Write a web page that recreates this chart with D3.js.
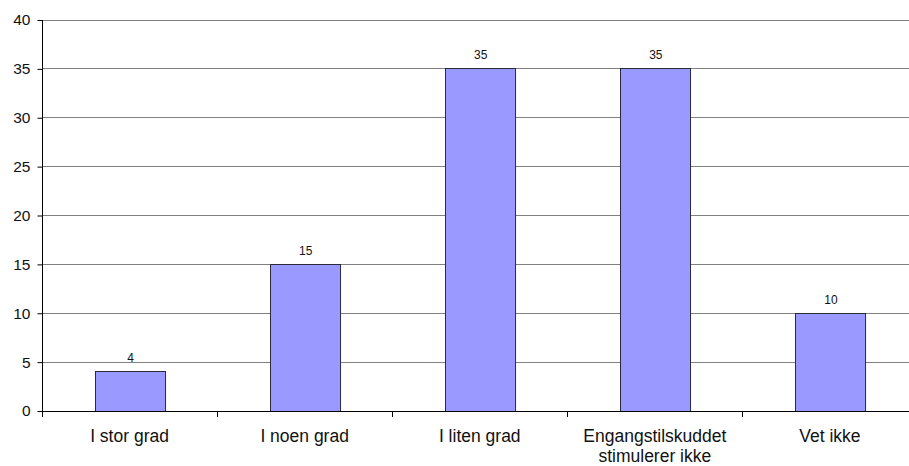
<!DOCTYPE html>
<html>
<head>
<meta charset="utf-8">
<script src="https://cdn.jsdelivr.net/npm/d3@7"></script>
<style>
  html, body { margin: 0; padding: 0; background: #fff; }
  svg { display: block; font-family: "Liberation Sans", Arial, sans-serif; }
</style>
</head>
<body>
<svg id="chart" width="909" height="466"></svg>
<script>
// Survey answers (percent)
const categories = ["I stor grad", "I noen grad", "I liten grad", "Engangstilskuddet stimulerer ikke", "Vet ikke"];
const categoryLines = [["I stor grad"], ["I noen grad"], ["I liten grad"], ["Engangstilskuddet", "stimulerer ikke"], ["Vet ikke"]];
const values = [4, 15, 35, 35, 10];
const yTicks = [0, 5, 10, 15, 20, 25, 30, 35, 40];

const svg = d3.select("#chart");
const plotLeft = 42, plotTop = 19.5, plotBottom = 410.5;
const bandW = 175.1;
const plotRight = plotLeft + bandW * categories.length;

const x = d3.scaleBand().domain(categories).range([plotLeft, plotRight]).paddingInner(0.6).paddingOuter(0.3);
const y = d3.scaleLinear().domain([0, 40]).range([plotBottom, plotTop]);

// horizontal gridlines
svg.append("g")
  .selectAll("line")
  .data(yTicks.filter(d => d > 0))
  .join("line")
  .attr("x1", plotLeft).attr("x2", 909)
  .attr("y1", d => Math.round(y(d)) + 0.5).attr("y2", d => Math.round(y(d)) + 0.5)
  .attr("stroke", "#808080").attr("stroke-width", 1);

// bars
svg.append("g")
  .selectAll("rect")
  .data(values)
  .join("rect")
  .attr("x", (d, i) => Math.round(x(categories[i])) + 0.5)
  .attr("y", d => Math.round(y(d)) + 0.5)
  .attr("width", x.bandwidth())
  .attr("height", d => Math.round(y(0)) - Math.round(y(d)))
  .attr("fill", "#9999ff")
  .attr("stroke", "#2a2a3a").attr("stroke-width", 1);

// value labels
svg.append("g")
  .selectAll("text")
  .data(values)
  .join("text")
  .attr("x", (d, i) => x(categories[i]) + x.bandwidth() / 2 + 1)
  .attr("y", d => y(d) - 9)
  .attr("text-anchor", "middle")
  .attr("font-size", 12)
  .attr("fill", "#111")
  .text(d => d);

// y axis
const yAxis = d3.axisLeft(y).tickValues(yTicks).tickSize(5).tickPadding(7);
const gy = svg.append("g").attr("transform", `translate(${plotLeft + 0.5},0.5)`).call(yAxis);
gy.select(".domain").attr("stroke", "#000").attr("d", `M0,${plotTop}V${plotBottom}`);
gy.selectAll(".tick line").attr("stroke", "#000");
gy.selectAll(".tick text").attr("font-size", 15.5).attr("fill", "#111").attr("font-family", null);

// x axis: baseline and category separators
const gx = svg.append("g");
gx.append("line")
  .attr("x1", plotLeft).attr("x2", 909)
  .attr("y1", Math.round(plotBottom) + 0.5).attr("y2", Math.round(plotBottom) + 0.5)
  .attr("stroke", "#000");
gx.selectAll("line.sep")
  .data(d3.range(categories.length + 1))
  .join("line")
  .attr("class", "sep")
  .attr("x1", i => Math.round(plotLeft + i * bandW) + 0.5).attr("x2", i => Math.round(plotLeft + i * bandW) + 0.5)
  .attr("y1", Math.round(plotBottom)).attr("y2", Math.round(plotBottom) + 6)
  .attr("stroke", "#000");

// category labels
gx.selectAll("text.cat")
  .data(categoryLines)
  .join("text")
  .attr("class", "cat")
  .attr("text-anchor", "middle")
  .attr("font-size", 17.5)
  .attr("fill", "#111")
  .attr("x", (d, i) => x(categories[i]) + x.bandwidth() / 2)
  .attr("y", 442)
  .selectAll("tspan")
  .data(d => d)
  .join("tspan")
  .attr("x", function() { return d3.select(this.parentNode).attr("x"); })
  .attr("dy", (d, j) => j === 0 ? 0 : 19.5)
  .text(d => d);
</script>
</body>
</html>
